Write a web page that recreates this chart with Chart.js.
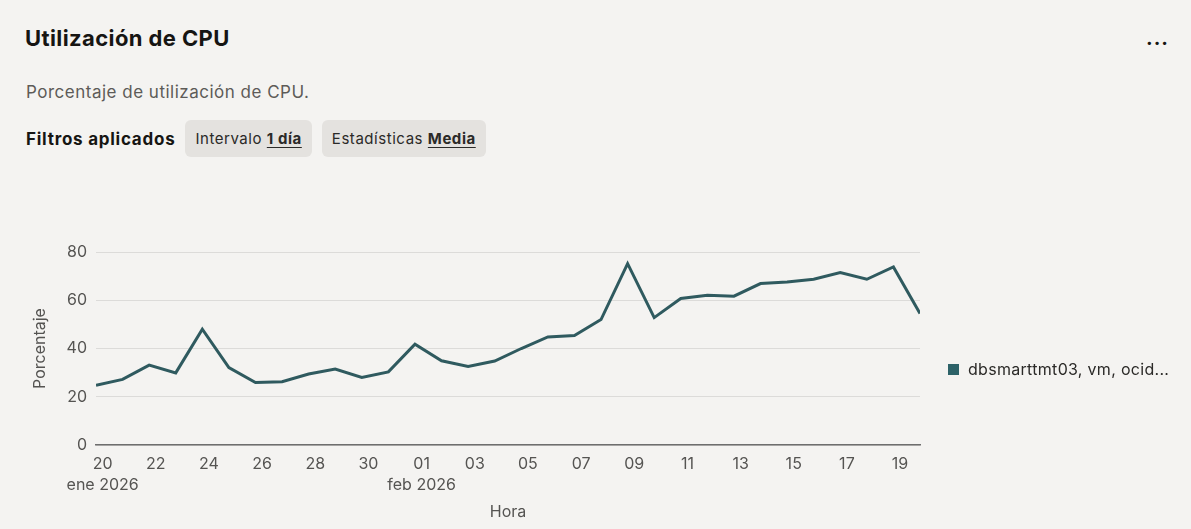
<!DOCTYPE html>
<html lang="es">
<head>
<meta charset="utf-8">
<title>Utilización de CPU</title>
<script src="https://cdn.jsdelivr.net/npm/chart.js@4/dist/chart.umd.min.js"></script>
<style>
  html, body { margin: 0; padding: 0; }
  body {
    width: 1191px; height: 529px; overflow: hidden;
    background: #f4f3f1;
    font-family: Inter, "Noto Sans", sans-serif;
    color: #161513;
    position: relative;
  }
  .title { position: absolute; left: 25px; top: 25px; font-size: 22px; font-weight: 700; letter-spacing: 0.4px; }
  .menu { position: absolute; left: 1146px; top: 26px; font-size: 20px; font-weight: 700; letter-spacing: 1px; }
  .subtitle { position: absolute; left: 26px; top: 82px; font-size: 17px; letter-spacing: 0.5px; color: #5d5b58; }
  .filters { position: absolute; left: 26px; top: 120px; height: 37px; display: flex; align-items: center; }
  .filters b { font-size: 17px; font-weight: 700; letter-spacing: 0.75px; margin-right: 10px; }
  .chip { background: #e4e2df; border-radius: 6px; height: 37px; line-height: 37px; padding: 0 10px; font-size: 15px; letter-spacing: 0.55px; margin-right: 10px; color: #2b2a28; }
  .chip u { font-weight: 700; text-underline-offset: 3px; }
  #wrap { position: absolute; left: 0; top: 200px; width: 1191px; height: 329px; }
  #legend { position: absolute; left: 948px; top: 359px; font-size: 16px; letter-spacing: 0.3px; color: #2b2a28; display: flex; align-items: center; }
  #legend span.box { display: inline-block; width: 11px; height: 11px; background: #2d6268; margin-right: 9px; }
</style>
</head>
<body>
<div class="title">Utilización de CPU</div>
<div class="menu">...</div>
<div class="subtitle">Porcentaje de utilización de CPU.</div>
<div class="filters">
  <b>Filtros aplicados</b>
  <span class="chip">Intervalo <u>1 día</u></span>
  <span class="chip">Estadísticas <u>Media</u></span>
</div>
<div id="wrap"><canvas id="cpuChart"></canvas></div>
<div id="legend"></div>

<script>
// sample times (UTC), one per day
var sampleTimes = [
  '2026-01-19T18:00', '2026-01-20T18:00', '2026-01-21T18:00', '2026-01-22T18:00',
  '2026-01-23T18:00', '2026-01-24T18:00', '2026-01-25T18:00', '2026-01-26T18:00',
  '2026-01-27T18:00', '2026-01-28T18:00', '2026-01-29T18:00', '2026-01-30T18:00',
  '2026-01-31T18:00', '2026-02-01T18:00', '2026-02-02T18:00', '2026-02-03T18:00',
  '2026-02-04T18:00', '2026-02-05T18:00', '2026-02-06T18:00', '2026-02-07T18:00',
  '2026-02-08T18:00', '2026-02-09T18:00', '2026-02-10T18:00', '2026-02-11T18:00',
  '2026-02-12T18:00', '2026-02-13T18:00', '2026-02-14T18:00', '2026-02-15T18:00',
  '2026-02-16T18:00', '2026-02-17T18:00', '2026-02-18T18:00', '2026-02-19T18:00'
];
var cpuValues = [
  24.8, 27.2, 33.1, 29.9, 48.0, 32.1, 25.9, 26.2,
  29.4, 31.5, 28.0, 30.3, 41.8, 34.9, 32.6, 34.8,
  40.0, 44.8, 45.4, 52.0, 75.2, 52.8, 60.7, 62.1,
  61.7, 66.9, 67.6, 68.7, 71.5, 68.7, 73.8, 54.5
];
var seriesName = 'dbsmarttmt03, vm, ocid...';

var tickDates = [
  '2026-01-20', '2026-01-22', '2026-01-24', '2026-01-26', '2026-01-28', '2026-01-30',
  '2026-02-01', '2026-02-03', '2026-02-05', '2026-02-07', '2026-02-09', '2026-02-11',
  '2026-02-13', '2026-02-15', '2026-02-17', '2026-02-19'
];
var tickLabels = [
  ['20', 'ene 2026'], '22', '24', '26', '28', '30',
  ['01', 'feb 2026'], '03', '05', '07', '09', '11',
  '13', '15', '17', '19'
];
var yTicks = [0, 20, 40, 60, 80];

// x in days since 2026-01-20 00:00
var origin = Date.parse('2026-01-20T00:00Z');
function toDays(s) {
  if (s.length === 10) s = s + 'T00:00';
  return (Date.parse(s + 'Z') - origin) / 86400000;
}

var points = sampleTimes.map(function(t, i) {
  return { x: toDays(t), y: cpuValues[i] };
});
var tickDays = tickDates.map(toDays);

var lineColor = '#2f5a5f';
var tickFont = { family: 'Inter, "Noto Sans", sans-serif', size: 16, lineHeight: 1.35 };

var chart = new Chart(document.getElementById('cpuChart'), {
  type: 'line',
  data: {
    datasets: [{
      label: seriesName,
      data: points,
      borderColor: lineColor,
      backgroundColor: '#2d6268',
      borderWidth: 3,
      pointRadius: 0,
      tension: 0
    }]
  },
  options: {
    responsive: false,
    animation: false,
    maintainAspectRatio: false,
    layout: { padding: { top: 52, right: 271, left: 0, bottom: 0 } },
    plugins: { legend: { display: false }, tooltip: { enabled: false } },
    scales: {
      x: {
        type: 'linear',
        min: points[0].x,
        max: points[points.length - 1].x,
        afterBuildTicks: function(scale) {
          scale.ticks = tickDays.map(function(v) { return { value: v }; });
        },
        afterFit: function(scale) { scale.height = 84; },
        grid: { display: false, drawTicks: false },
        border: { display: true, color: '#6e6e6e', width: 1.5 },
        ticks: {
          autoSkip: false,
          maxRotation: 0,
          padding: 8,
          color: '#555452',
          font: tickFont,
          callback: function(value) {
            var i = tickDays.indexOf(value);
            return i >= 0 ? tickLabels[i] : '';
          }
        },
        title: {
          display: true,
          text: 'Hora',
          color: '#555452',
          font: { family: tickFont.family, size: 16 },
          padding: { top: 4, bottom: 7 }
        }
      },
      y: {
        min: 0,
        max: 80,
        afterBuildTicks: function(scale) {
          scale.ticks = yTicks.map(function(v) { return { value: v }; });
        },
        afterFit: function(scale) { scale.width = 96; },
        grid: { color: '#dcdbd9', lineWidth: 1, drawTicks: false },
        border: { display: false },
        ticks: { padding: 9, color: '#555452', font: { family: tickFont.family, size: 16 } },
        title: {
          display: true,
          text: 'Porcentaje',
          color: '#555452',
          font: { family: tickFont.family, size: 16 },
          padding: { top: 31, bottom: 0 }
        }
      }
    }
  }
});
chart.canvas.parentNode.style.width = '1191px';
chart.resize(1191, 329);

// legend from the dataset
var legend = document.getElementById('legend');
chart.data.datasets.forEach(function(ds) {
  var box = document.createElement('span');
  box.className = 'box';
  box.style.background = ds.backgroundColor;
  legend.appendChild(box);
  legend.appendChild(document.createTextNode(ds.label));
});
</script>
</body>
</html>
